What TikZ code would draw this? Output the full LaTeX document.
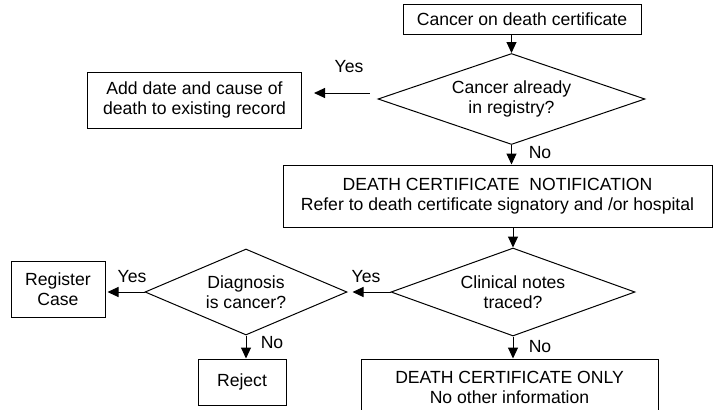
\documentclass[tikz,border=0pt]{standalone}
\usepackage{fontspec}
\setmainfont{Liberation Sans}
\usetikzlibrary{shapes.geometric,arrows.meta}
\begin{document}
\begin{tikzpicture}[x=0.5pt,y=-0.5pt,
  every node/.style={font=\fontsize{8.8}{10}\selectfont,align=center,inner sep=0pt},
  box/.style={draw,line width=0.5pt},
  dec/.style={draw,diamond,line width=0.5pt,shape aspect=2.8},
  arr/.style={line width=0.5pt,-{Triangle[length=5.5pt,width=5pt]}}]
\useasboundingbox (0,0) rectangle (724,409);
\node[box,minimum width=119pt,minimum height=15pt] (cert) at (522,19) {Cancer on death certificate};
\node[dec,minimum width=133.5pt,minimum height=45.5pt] (inreg) at (511.5,99) {Cancer already\\in registry?};
\node[box,minimum width=107pt,minimum height=28pt] (add) at (194.5,100) {Add date and cause of\\death to existing record};
\node[box,minimum width=214.5pt,minimum height=31pt] (dcn) at (497.5,196) {DEATH CERTIFICATE\ \ NOTIFICATION\\Refer to death certificate signatory and /or hospital};
\node[dec,minimum width=122pt,minimum height=44pt] (notes) at (513,292) {Clinical notes\\traced?};
\node[dec,minimum width=101pt,minimum height=43pt] (diag) at (246,292) {Diagnosis\\is cancer?};
\node[box,minimum width=47pt,minimum height=28pt] (reg) at (58,289) {Register\\Case};
\node[box,minimum width=44pt,minimum height=23pt] (rej) at (242,382) {Reject};
\node[box,minimum width=148.5pt,minimum height=28pt] (dco) at (509.5,387) {DEATH CERTIFICATE ONLY\\No other information};
% labels
\node (yes1) at (349,67) {Yes};
\node (no1) at (540,153) {No};
\node (yes2) at (366,277) {Yes};
\node (no2) at (540,347) {No};
\node (yes3) at (132,277) {Yes};
\node (no3) at (272,343) {No};
% arrows
\draw[arr] (inreg.north |- cert.south) -- (inreg.north);
\draw[arr,shorten <=4pt,shorten >=6pt] ([yshift=3pt]inreg.west) -- ([yshift=3pt]inreg.west -| add.east);
\draw[arr] (inreg.south) -- (inreg.south |- dcn.north);
\draw[arr] (notes.north |- dcn.south) -- (notes.north);
\draw[arr,shorten >=2.5pt] (notes.west) -- (diag.east);
\draw[arr,shorten >=1pt] (diag.west) -- (diag.west -| reg.east);
\draw[arr] (diag.south) -- (diag.south |- rej.north);
\draw[arr] (notes.south) -- (notes.south |- dco.north);
\end{tikzpicture}
\end{document}
